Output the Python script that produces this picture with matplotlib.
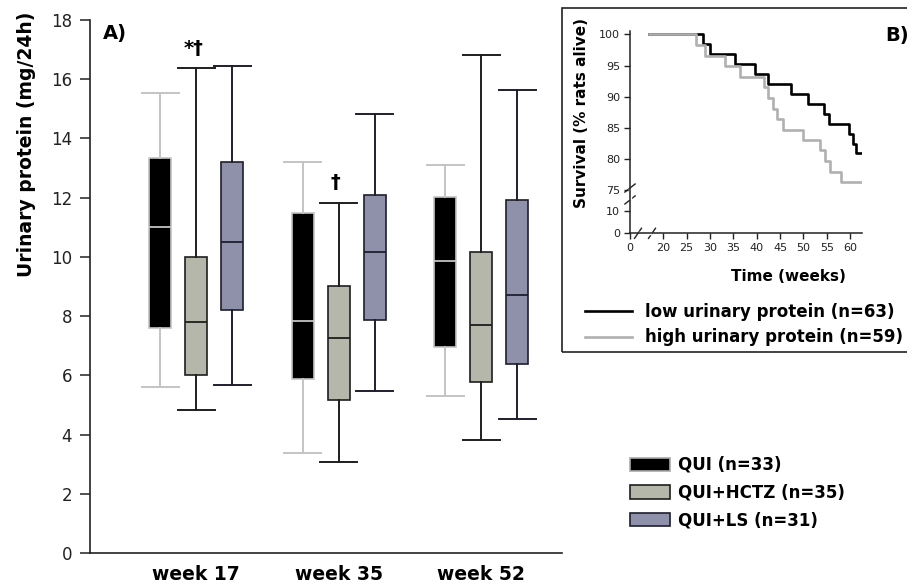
import matplotlib
matplotlib.use('Agg')
import matplotlib.pyplot as plt
from matplotlib.patches import Rectangle, Patch
from matplotlib.lines import Line2D
import numpy as np

# datos del panel A (cajas)
weeks = ['week 17', 'week 35', 'week 52']
groups = ['QUI (n=33)', 'QUI+HCTZ (n=35)', 'QUI+LS (n=31)']
whislo = {'QUI (n=33)': [5.6, 3.39, 5.3],
          'QUI+HCTZ (n=35)': [4.83, 3.07, 3.81],
          'QUI+LS (n=31)': [5.68, 5.46, 4.52]}
q1 = {'QUI (n=33)': [7.61, 5.89, 6.95],
      'QUI+HCTZ (n=35)': [6.02, 5.16, 5.77],
      'QUI+LS (n=31)': [8.19, 7.88, 6.37]}
med = {'QUI (n=33)': [11.0, 7.85, 9.85],
       'QUI+HCTZ (n=35)': [7.79, 7.27, 7.70],
       'QUI+LS (n=31)': [10.5, 10.17, 8.71]}
q3 = {'QUI (n=33)': [13.33, 11.48, 12.03],
      'QUI+HCTZ (n=35)': [9.99, 9.02, 10.18],
      'QUI+LS (n=31)': [13.2, 12.09, 11.93]}
whishi = {'QUI (n=33)': [15.55, 13.19, 13.12],
          'QUI+HCTZ (n=35)': [16.37, 11.83, 16.83],
          'QUI+LS (n=31)': [16.46, 14.83, 15.64]}
# marcas de significancia sobre QUI+HCTZ
signif = ['*\u2020', '\u2020', '']

# datos del panel B (supervivencia)
low_t = [17, 28.6, 30.0, 35.3, 39.6, 42.5, 47.3, 51.1, 54.4, 55.5, 59.7, 60.7, 61.2, 62.5]
low_s = [100, 98.4, 96.8, 95.2, 93.7, 92.1, 90.5, 88.9, 87.3, 85.7, 84.1, 82.5, 81.0, 81.0]
high_t = [17, 27.1, 28.9, 33.2, 36.4, 41.6, 42.5, 43.4, 44.3, 45.6, 49.9, 53.6, 54.6, 55.7, 58.0, 62.5]
high_s = [100, 98.3, 96.6, 94.9, 93.2, 91.5, 89.8, 88.1, 86.4, 84.7, 83.1, 81.4, 79.7, 78.0, 76.3, 76.3]
surv_xticks = [0, 20, 25, 30, 35, 40, 45, 50, 55, 60]
surv_yticks = [0, 10, 75, 80, 85, 90, 95, 100]

face = {'QUI (n=33)': 'black', 'QUI+HCTZ (n=35)': '#b4b7a9', 'QUI+LS (n=31)': '#8f90aa'}
edge = {'QUI (n=33)': '#c4c4c4', 'QUI+HCTZ (n=35)': '#1e1e1e', 'QUI+LS (n=31)': '#1e1e2e'}
offsets = [-0.2526, 0.0, 0.2526]
dark = '#222222'

fig = plt.figure(figsize=(9.07, 5.85), dpi=100)

# ---- panel A ----
ax = fig.add_axes([90 / 907, 32 / 585, 472 / 907, 533 / 585])
x = np.arange(1, len(weeks) + 1)
for g, off in zip(groups, offsets):
    stats = [dict(med=med[g][i], q1=q1[g][i], q3=q3[g][i],
                  whislo=whislo[g][i], whishi=whishi[g][i], fliers=[])
             for i in range(len(weeks))]
    lc = edge[g]
    ax.bxp(stats, positions=x + off, widths=0.154, capwidths=0.26,
           patch_artist=True, showfliers=False,
           boxprops=dict(facecolor=face[g], edgecolor=lc, linewidth=1.2),
           whiskerprops=dict(color=lc, linewidth=1.4),
           capprops=dict(color=lc, linewidth=1.4),
           medianprops=dict(color=lc, linewidth=1.3))

hctz = 'QUI+HCTZ (n=35)'
for i, s in enumerate(signif):
    if s:
        ax.text(x[i] - 0.02, whishi[hctz][i] + 0.35, s, ha='center', va='bottom',
                fontsize=14, fontweight='bold')

ax.set_xlim(0.256, 3.568)
ax.set_ylim(0, 18)
ax.set_yticks(np.arange(0, 19, 2))
ax.set_xticks(x)
ax.set_xticklabels(weeks, fontsize=13.5, fontweight='bold')
ax.tick_params(axis='x', length=0, pad=9)
ax.tick_params(axis='y', length=7, width=1.1, pad=6, labelsize=12, color=dark, labelcolor=dark)
for sp in ['top', 'right']:
    ax.spines[sp].set_visible(False)
for sp in ['left', 'bottom']:
    ax.spines[sp].set_linewidth(1.2)
    ax.spines[sp].set_color(dark)

fig.text(27 / 907, 1 - 144 / 585, 'Urinary protein (mg/24h)', rotation=90,
         ha='center', va='center', fontsize=13.5, fontweight='bold')
fig.text(103 / 907, 1 - 33 / 585, 'A)', ha='left', va='center', fontsize=14, fontweight='bold')

leg_handles = [Patch(facecolor=face[g], edgecolor=edge[g] if g != groups[0] else '#aaaaaa',
                     linewidth=1.2) for g in groups]
fig.legend(leg_handles, groups, loc='upper left', bbox_to_anchor=(630 / 907, 1 - 456 / 585),
           frameon=False, borderpad=0, borderaxespad=0, handlelength=2.4, handleheight=0.85,
           handletextpad=0.45, labelspacing=0.58, prop=dict(size=12, weight='bold'))


# ---- panel B ----
def piecewise(xp, fp):
    xp = np.asarray(xp, float)
    fp = np.asarray(fp, float)

    def mk(a, b):
        def f(v):
            v = np.asarray(v, float)
            out = np.interp(v, a, b)
            out = np.where(v < a[0], b[0] + (v - a[0]) * (b[1] - b[0]) / (a[1] - a[0]), out)
            out = np.where(v > a[-1], b[-1] + (v - a[-1]) * (b[-1] - b[-2]) / (a[-1] - a[-2]), out)
            return out
        return f
    return mk(xp, fp), mk(fp, xp)


fig.add_artist(Rectangle((561.7 / 907, 1 - 352 / 585), 0.5, (352 - 8.3) / 585,
                         transform=fig.transFigure, fill=False, edgecolor=dark, linewidth=1.2))

axb = fig.add_axes([630 / 907, 1 - 233.3 / 585, 231.7 / 907, 202.1 / 585])
axb.set_xscale('function', functions=piecewise([0, 14, 62.5], [0, 5.3, 231.7]))
axb.set_yscale('function', functions=piecewise([0, 10, 75, 100.5], [0, 22.3, 43, 202.1]))
axb.step(low_t, low_s, where='post', color='black', linewidth=1.9)
axb.step(high_t, high_s, where='post', color='#b0b0b0', linewidth=1.9)
axb.set_xlim(0, 62.5)
axb.set_ylim(0, 100.5)
axb.set_xticks(surv_xticks)
axb.set_yticks(surv_yticks)
axb.xaxis.set_minor_locator(matplotlib.ticker.NullLocator())
axb.yaxis.set_minor_locator(matplotlib.ticker.NullLocator())
axb.tick_params(length=4, width=1, pad=3, labelsize=8, color=dark, labelcolor=dark)
for sp in ['top', 'right']:
    axb.spines[sp].set_visible(False)
for sp in ['left', 'bottom']:
    axb.spines[sp].set_linewidth(1.1)
    axb.spines[sp].set_color(dark)

# marcas de corte de eje
kw = dict(transform=axb.transAxes, clip_on=False, color=dark, linewidth=1.0)
for fy in [0.165, 0.224]:
    axb.plot([-0.022, 0.022], [fy - 0.02, fy + 0.02], **kw)
axb.plot([0, 0], [0.175, 0.214], transform=axb.transAxes, clip_on=False, color='white', linewidth=2.5)
for fx in [0.0345, 0.095]:
    axb.plot([fx - 0.015, fx + 0.015], [-0.025, 0.025], **kw)
axb.plot([0.045, 0.085], [0, 0], transform=axb.transAxes, clip_on=False, color='white', linewidth=2.5)

fig.text(581.7 / 907, 1 - 113 / 585, 'Survival (% rats alive)', rotation=90,
         ha='center', va='center', fontsize=11, fontweight='bold')
fig.text(788 / 907, 1 - 276.7 / 585, 'Time (weeks)', ha='center', va='center',
         fontsize=11, fontweight='bold')
fig.text(885 / 907, 1 - 35 / 585, 'B)', ha='left', va='center', fontsize=14, fontweight='bold')

surv_handles = [Line2D([], [], color='black', linewidth=1.9),
                Line2D([], [], color='#b0b0b0', linewidth=1.9)]
fig.legend(surv_handles, ['low urinary protein (n=63)', 'high urinary protein (n=59)'],
           loc='upper left', bbox_to_anchor=(585 / 907, 1 - 303 / 585), frameon=False,
           borderpad=0, borderaxespad=0, handlelength=2.8, handletextpad=0.8,
           labelspacing=0.45, prop=dict(size=12, weight='bold'))

plt.savefig('out.png', dpi=100)
